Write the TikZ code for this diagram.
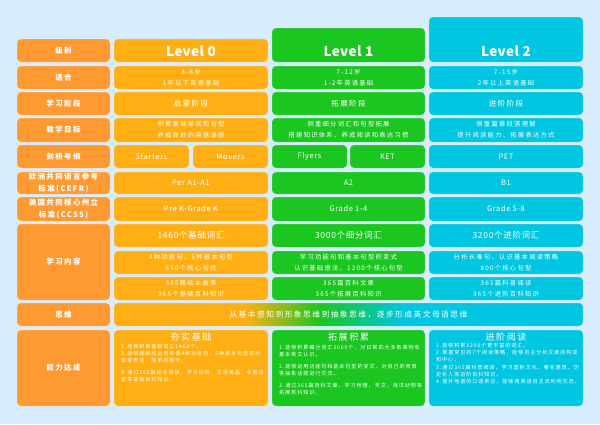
\documentclass[tikz,border=0pt]{standalone}
\usepackage{fontspec}
\setmainfont{Noto Sans CJK SC}
\newfontfamily\trkA[LetterSpace=18]{Noto Sans CJK SC}
\newfontfamily\trkB[LetterSpace=20]{Noto Sans CJK SC}
\newfontfamily\trkC[LetterSpace=8]{Noto Sans CJK SC}
\newfontfamily\trkD[LetterSpace=3]{Noto Sans CJK SC}
\definecolor{bg}{HTML}{D7ECFC}
\definecolor{labc}{HTML}{FF9A33}
\definecolor{lv0}{HTML}{FFAF14}
\definecolor{lv1}{HTML}{1BC620}
\definecolor{lv2}{HTML}{00C6E2}
\pgfdeclarehorizontalshading{thinkshade}{100bp}{color(0bp)=(lv0); color(39bp)=(lv0); color(47bp)=(lv1); color(56bp)=(lv2); color(100bp)=(lv2)}
\newcommand\fLab{\trkA\bfseries\fontsize{7.5}{12}\selectfont}
\newcommand\fSm{\trkB\fontsize{6.3}{11}\selectfont}
\newcommand\fMd{\trkA\fontsize{7.5}{11}\selectfont}
\newcommand\fLat{\trkC\fontsize{7.5}{11}\selectfont}
\newcommand\fBig{\trkC\fontsize{8.5}{11}\selectfont}
\newcommand\fHead{\trkD\bfseries\fontsize{13.5}{15}\selectfont}
\newcommand\fTitle{\trkA\fontsize{9}{11}\selectfont}
\newcommand\fBar{\trkA\fontsize{7.8}{10}\selectfont}
\newcommand\fPar{\trkA\fontsize{5.1}{7.2}\selectfont}
\newcommand\cell[7][]{\node[cellbox,#1,minimum width={(#5-#3)*1pt},minimum height={(#6-#4)*1pt}] (#2) at ({(#3+#5)/2},{(#4+#6)/2}) {#7};}
\tikzset{
  cellbox/.style={rounded corners=4pt, inner sep=0pt, text=white, align=center, draw=white, draw opacity=0.25, line width=0.5pt},
  lab/.style={fill=labc, font=\fLab},
  c0/.style={fill=lv0}, c1/.style={fill=lv1}, c2/.style={fill=lv2},
  sm/.style={font=\fSm}, md/.style={font=\fMd}, lat/.style={font=\fLat}, big/.style={font=\fBig},
  head/.style={font=\fHead, text=white, anchor=base, inner sep=0pt},
  ttl/.style={font=\fTitle, text=white, inner sep=0pt},
  para/.style={font=\fPar, text=white, align=left, inner sep=0pt, anchor=north west}
}
\begin{document}
\begin{tikzpicture}[x=1pt,y=-1pt]
\useasboundingbox (0,0) rectangle (600,424);
\fill[bg] (0,0) rectangle (600,424);
% left labels
\cell[lab]{lJB}{17}{39}{110}{62}{级别}
\cell[lab]{lSH}{17}{66}{110}{89}{适合}
\cell[lab]{lJD}{17}{92}{110}{115}{学习阶段}
\cell[lab]{lMB}{17}{118}{110}{142}{教学目标}
\cell[lab]{lJQ}{17}{145}{110}{168}{剑桥考纲}
\cell[lab]{lEU}{17}{172}{110}{194}{欧洲共同语言参考\\标准(CEFR)}
\cell[lab]{lUS}{17}{197}{110}{221}{美国共同核心州立\\标准(CCSS)}
\cell[lab]{lNR}{17}{224}{110}{300}{学习内容}
\cell[lab]{lSW}{17}{303}{110}{326}{思维}
\cell[lab]{lNL}{17}{330}{110}{406}{能力达成}
% headers
\cell[c0]{h0}{114}{39}{268}{62}{}
\cell[c1]{h1}{272}{28}{425}{62}{}
\cell[c2]{h2}{429}{17}{583}{62}{}
\node[head] (t0) at (191,56) {Level 0};
\node[head] (t1) at (348.5,56) {Level 1};
\node[head] (t2) at (506,56) {Level 2};
% level 0
\cell[c0,sm]{a0}{114}{66}{268}{89}{3-6岁\\1年以下英语基础}
\cell[c0,md]{s0}{114}{92}{268}{115}{启蒙阶段}
\cell[c0,sm]{g0}{114}{118}{268}{142}{积累基础单词和句型\\养成良好的英语语感}
\cell[c0,lat]{k0a}{114}{145}{189}{168}{Starters}
\cell[c0,lat]{k0b}{193}{145}{268}{168}{Movers}
\cell[c0,lat]{e0}{114}{172}{268}{194}{Per A1-A1}
\cell[c0,lat]{u0}{114}{197}{268}{221}{Pre K-Grade K}
\cell[c0,big]{n0a}{114}{224}{268}{247}{1460个基础词汇}
\cell[c0,sm]{n0b}{114}{251}{268}{274}{4种功能句、5种基本句型\\650个核心句式}
\cell[c0,sm]{n0c}{114}{277}{268}{300}{365篇绘本故事\\365个基础百科知识}
% level 1
\cell[c1,sm]{a1}{272}{66}{425}{89}{7-12岁\\1-2年英语基础}
\cell[c1,md]{s1}{272}{92}{425}{115}{拓展阶段}
\cell[c1,sm]{g1}{272}{118}{425}{142}{侧重细分词汇和句型拓展\\搭建知识体系、养成阅读和表达习惯}
\cell[c1,lat]{k1a}{272}{145}{347}{168}{Flyers}
\cell[c1,lat]{k1b}{350}{145}{425}{168}{KET}
\cell[c1,lat]{e1}{272}{172}{425}{194}{A2}
\cell[c1,lat]{u1}{272}{197}{425}{221}{Grade 1-4}
\cell[c1,big]{n1a}{272}{224}{425}{247}{3000个细分词汇}
\cell[c1,sm]{n1b}{272}{251}{425}{274}{学习功能句和基本句型的变式\\认识基础语法、1200个核心句型}
\cell[c1,sm]{n1c}{272}{277}{425}{300}{365篇百科文章\\365个拓展百科知识}
% level 2
\cell[c2,sm]{a2}{429}{66}{583}{89}{7-15岁\\2年以上英语基础}
\cell[c2,md]{s2}{429}{92}{583}{115}{进阶阶段}
\cell[c2,sm]{g2}{429}{118}{583}{142}{侧重篇章段落理解\\提升阅读能力、拓展表达方式}
\cell[c2,lat]{k2}{429}{145}{583}{168}{PET}
\cell[c2,lat]{e2}{429}{172}{583}{194}{B1}
\cell[c2,lat]{u2}{429}{197}{583}{221}{Grade 5-8}
\cell[c2,big]{n2a}{429}{224}{583}{247}{3200个进阶词汇}
\cell[c2,sm]{n2b}{429}{251}{583}{274}{分析长难句、认识基本阅读策略\\800个核心句型}
\cell[c2,sm]{n2c}{429}{277}{583}{300}{365篇科普阅读\\365个进阶百科知识}
% thinking bar
\cell[shading=thinkshade,font=\fBar]{sw}{114}{303}{583}{326}{从基本感知到形象思维到抽象思维，逐步形成英文母语思维}
% ability boxes
\cell[c0]{b0}{114}{330}{268}{406}{}
\cell[c1]{b1}{272}{330}{425}{406}{}
\cell[c2]{b2}{429}{330}{583}{406}{}
\node[ttl] (bt0) at (191,337) {夯实基础};
\node[ttl] (bt1) at (348.5,337) {拓展积累};
\node[ttl] (bt2) at (506,337) {进阶阅读};
\node[para] (bp0) at (121,343.5) {1.能够积累基础词汇1460个。\\2.能够理解和运用英语4种功能句、5种基本句型进行\\日常表达、简单的聊天。\\[4.8pt]3.通过365篇绘本阅读，学习动物、生活用品、名胜古\\迹等基础百科知识。};
\node[para] (bp1) at (279,344.5) {1.能够积累细分词汇3000个，对日常的大多数事物有\\基本英文认识。\\[4.8pt]2.能够运用功能句和基本句型的变式，对自己的背景\\等抽象话题进行交流。\\[4.8pt]3.通过365篇百科文章，学习地理、天文、海洋动物等\\拓展百科知识。};
\node[para] (bp2) at (436,343) {1.能够积累3200个更丰富的词汇。\\2.掌握常见的7个阅读策略，能够自主分析文章的构成\\和中心。\\3.通过365篇科普阅读，学习国别文化、著名建筑、历\\史名人等进阶百科知识。\\4.提升地道的口语表达，能够用英语自主流利地交流。};
\end{tikzpicture}
\end{document}
